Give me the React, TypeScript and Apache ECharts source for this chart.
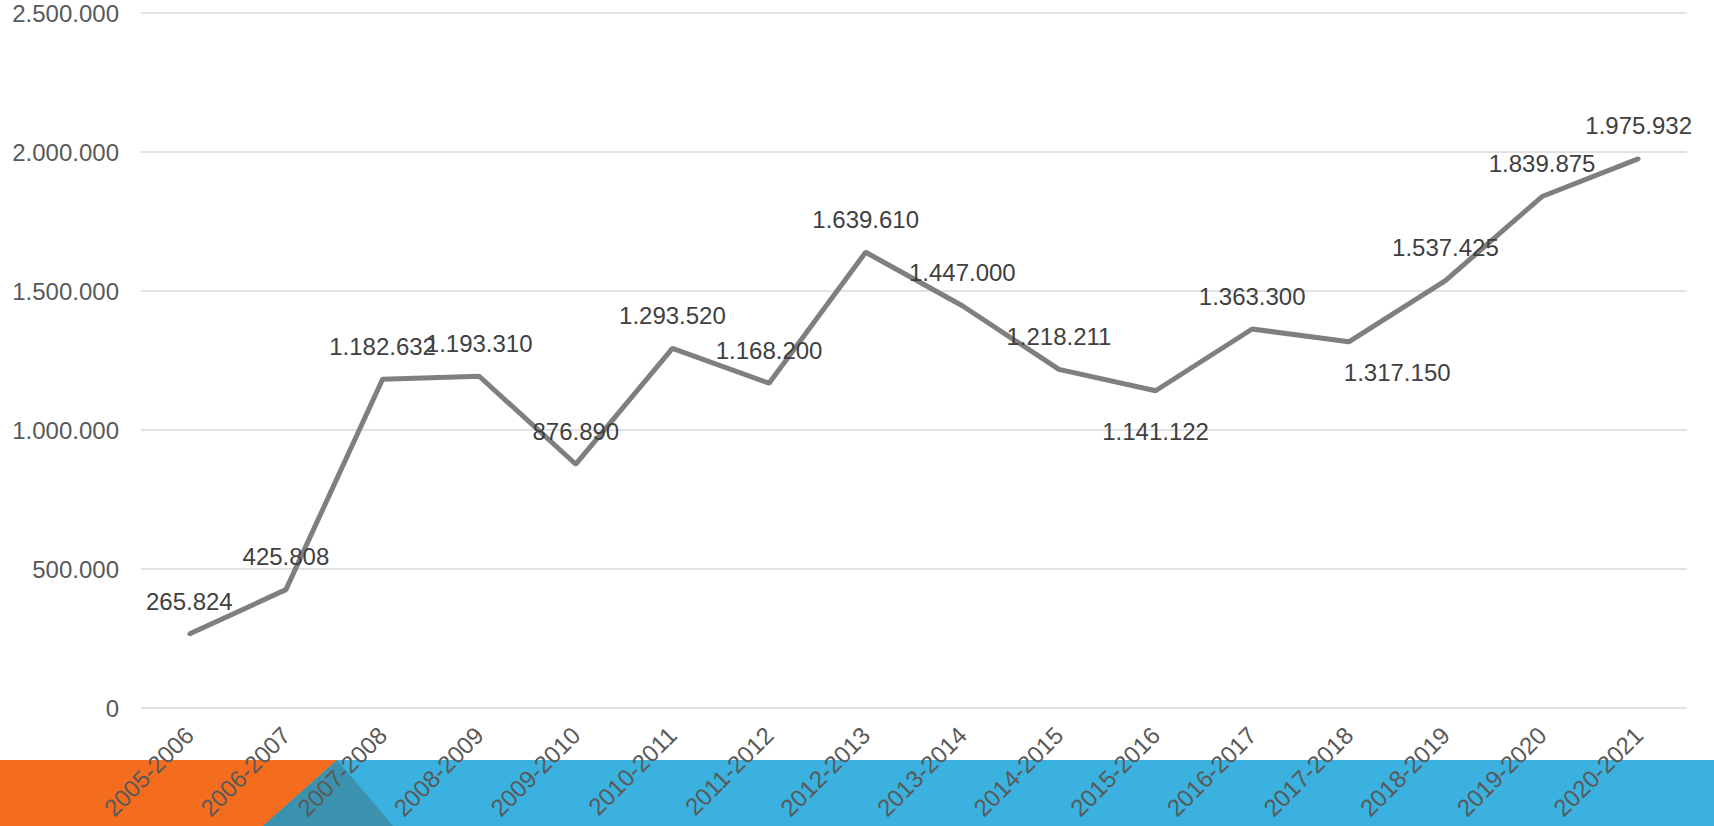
import React, { useEffect, useRef } from "react";
import * as echarts from "echarts";

const categories = [
  "2005-2006", "2006-2007", "2007-2008", "2008-2009", "2009-2010", "2010-2011",
  "2011-2012", "2012-2013", "2013-2014", "2014-2015", "2015-2016", "2016-2017",
  "2017-2018", "2018-2019", "2019-2020", "2020-2021",
];
const values = [
  265824, 425808, 1182632, 1193310, 876890, 1293520, 1168200, 1639610,
  1447000, 1218211, 1141122, 1363300, 1317150, 1537425, 1839875, 1975932,
];
// label placement per point: "top", "bottom" or "bottomRight"
const labelPlacement = [
  "top", "top", "top", "top", "top", "top", "top", "top",
  "top", "top", "bottom", "top", "bottomRight", "top", "top", "top",
];
const yMin = 0;
const yMax = 2500000;
const yStep = 500000;

function fmt(v: number): string {
  const s = Math.round(v).toString();
  return s.replace(/\B(?=(\d{3})+(?!\d))/g, ".");
}

export default function App() {
  const ref = useRef<HTMLDivElement>(null);
  useEffect(() => {
    if (!ref.current) return;
    const chart = echarts.init(ref.current, undefined, { renderer: "svg" });
    const font = "'Liberation Sans', Arial, sans-serif";
    const data = values.map((v, i) => {
      const p = labelPlacement[i];
      let label: any = { position: "top", distance: 19 };
      if (p === "bottom") label = { position: "bottom", distance: 27 };
      if (p === "bottomRight")
        label = { position: [-3, 21], align: "left", verticalAlign: "top" };
      return { value: v, label };
    });
    chart.setOption({
      animation: false,
      backgroundColor: "#ffffff",
      grid: { left: 141, right: 27, top: 13, bottom: 118, containLabel: false },
      xAxis: {
        type: "category",
        data: categories,
        boundaryGap: true,
        axisLine: { show: false },
        axisTick: { show: false },
        axisLabel: {
          rotate: 45,
          margin: 23,
          color: "#595959",
          fontSize: 24,
          fontFamily: font,
          interval: 0,
        },
        z: 10,
      },
      yAxis: {
        type: "value",
        min: yMin,
        max: yMax,
        interval: yStep,
        axisLine: { show: false },
        axisTick: { show: false },
        splitLine: { lineStyle: { color: "#d9d9d9", width: 1.5 } },
        axisLabel: {
          margin: 22,
          color: "#595959",
          fontSize: 24,
          fontFamily: font,
          formatter: (v: number) => fmt(v),
        },
      },
      graphic: {
        z: -10,
        elements: [
          {
            type: "rect",
            z: -10,
            shape: { x: 0, y: 760, width: 1714, height: 66 },
            style: { fill: "#3ab1df" },
          },
          {
            type: "polygon",
            z: -10,
            shape: { points: [[0, 760], [337, 760], [263, 826], [0, 826]] },
            style: { fill: "#f46d1e" },
          },
          {
            type: "polygon",
            z: -10,
            shape: { points: [[337, 760], [263, 826], [393, 826]] },
            style: { fill: "#3b92af" },
          },
        ],
      },
      series: [
        {
          type: "line",
          data,
          symbol: "circle",
          symbolSize: 4,
          showSymbol: true,
          showAllSymbol: true,
          lineStyle: { color: "#7f7f7f", width: 5 },
          itemStyle: { color: "#7f7f7f" },
          label: {
            show: true,
            color: "#404040",
            fontSize: 24,
            fontFamily: font,
            formatter: (p: any) => fmt(p.value),
          },
          labelLayout: { hideOverlap: false },
          z: 5,
        },
      ],
    });
    return () => chart.dispose();
  }, []);
  return (
    <div
      ref={ref}
      style={{ position: "fixed", left: 0, top: 0, width: 1714, height: 826 }}
    />
  );
}
